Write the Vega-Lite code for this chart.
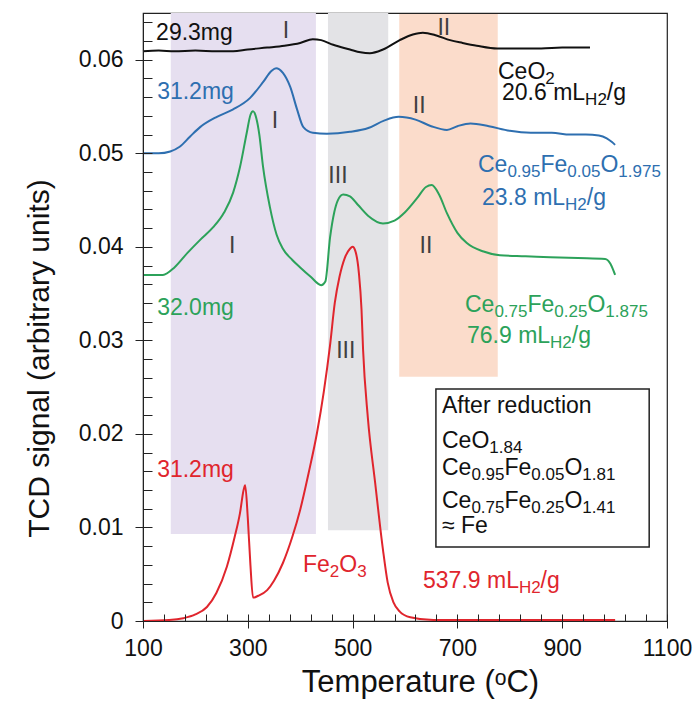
{
  "$schema": "https://vega.github.io/schema/vega-lite/v6.json",
  "width": 524,
  "height": 608,
  "autosize": {"type": "none"},
  "padding": {"left": 143, "top": 13, "right": 32, "bottom": 83},
  "background": "white",
  "config": {
    "view": {"stroke": "#222222", "strokeWidth": 1.2},
    "font": "Liberation Sans",
    "text": {"font": "Liberation Sans"},
    "axis": {"labelFont": "Liberation Sans", "titleFont": "Liberation Sans", "labelColor": "#111111", "titleColor": "#111111", "tickColor": "#222222", "domainColor": "#222222", "grid": false}
  },
  "datasets": {
    "regions": [
      {"c": "p", "x1": 153, "x2": 430, "y1": 0.0093, "y2": 0.065},
      {"c": "gy", "x1": 453, "x2": 568, "y1": 0.0097, "y2": 0.065},
      {"c": "o", "x1": 589, "x2": 777, "y1": 0.0261, "y2": 0.0649}
    ],
    "box": [{"x1": 659, "x2": 1066, "y1": 0.0079, "y2": 0.0248}],
    "curves": [
      {"c": "k", "T": 100, "v": 0.0609}, {"c": "k", "T": 130, "v": 0.0610}, {"c": "k", "T": 160, "v": 0.0609}, {"c": "k", "T": 200, "v": 0.0610},
      {"c": "k", "T": 240, "v": 0.0609}, {"c": "k", "T": 272, "v": 0.0609}, {"c": "k", "T": 300, "v": 0.0611}, {"c": "k", "T": 337, "v": 0.0613},
      {"c": "k", "T": 370, "v": 0.0615}, {"c": "k", "T": 400, "v": 0.0618}, {"c": "k", "T": 424, "v": 0.0622}, {"c": "k", "T": 440, "v": 0.0621},
      {"c": "k", "T": 463, "v": 0.0616}, {"c": "k", "T": 495, "v": 0.0611}, {"c": "k", "T": 515, "v": 0.0608}, {"c": "k", "T": 533, "v": 0.0607},
      {"c": "k", "T": 558, "v": 0.0611}, {"c": "k", "T": 590, "v": 0.0621}, {"c": "k", "T": 615, "v": 0.0627}, {"c": "k", "T": 634, "v": 0.0629},
      {"c": "k", "T": 660, "v": 0.0626}, {"c": "k", "T": 686, "v": 0.0621}, {"c": "k", "T": 710, "v": 0.0618}, {"c": "k", "T": 737, "v": 0.0615},
      {"c": "k", "T": 776, "v": 0.0612}, {"c": "k", "T": 820, "v": 0.0612}, {"c": "k", "T": 860, "v": 0.0612}, {"c": "k", "T": 900, "v": 0.0613},
      {"c": "k", "T": 953, "v": 0.0613},
      {"c": "b", "T": 100, "v": 0.0500}, {"c": "b", "T": 130, "v": 0.0500}, {"c": "b", "T": 152, "v": 0.0502}, {"c": "b", "T": 170, "v": 0.0507},
      {"c": "b", "T": 190, "v": 0.0518}, {"c": "b", "T": 209, "v": 0.0528}, {"c": "b", "T": 241, "v": 0.0539}, {"c": "b", "T": 272, "v": 0.0547},
      {"c": "b", "T": 304, "v": 0.0559}, {"c": "b", "T": 329, "v": 0.0576}, {"c": "b", "T": 345, "v": 0.0588}, {"c": "b", "T": 354, "v": 0.0591},
      {"c": "b", "T": 367, "v": 0.0586}, {"c": "b", "T": 381, "v": 0.0571}, {"c": "b", "T": 394, "v": 0.0547}, {"c": "b", "T": 406, "v": 0.0528},
      {"c": "b", "T": 424, "v": 0.0522}, {"c": "b", "T": 451, "v": 0.0521}, {"c": "b", "T": 495, "v": 0.0523}, {"c": "b", "T": 530, "v": 0.0527},
      {"c": "b", "T": 560, "v": 0.0535}, {"c": "b", "T": 588, "v": 0.0539}, {"c": "b", "T": 620, "v": 0.0536}, {"c": "b", "T": 650, "v": 0.0529},
      {"c": "b", "T": 680, "v": 0.0525}, {"c": "b", "T": 700, "v": 0.0529}, {"c": "b", "T": 725, "v": 0.0532}, {"c": "b", "T": 760, "v": 0.0529},
      {"c": "b", "T": 800, "v": 0.0524}, {"c": "b", "T": 840, "v": 0.0522}, {"c": "b", "T": 880, "v": 0.0522}, {"c": "b", "T": 915, "v": 0.0520},
      {"c": "b", "T": 945, "v": 0.0520}, {"c": "b", "T": 970, "v": 0.0519}, {"c": "b", "T": 985, "v": 0.0516}, {"c": "b", "T": 995, "v": 0.0512},
      {"c": "b", "T": 1001, "v": 0.0509},
      {"c": "g", "T": 100, "v": 0.0370}, {"c": "g", "T": 138, "v": 0.0370}, {"c": "g", "T": 160, "v": 0.0378}, {"c": "g", "T": 184, "v": 0.0393},
      {"c": "g", "T": 210, "v": 0.0408}, {"c": "g", "T": 234, "v": 0.0421}, {"c": "g", "T": 255, "v": 0.0437}, {"c": "g", "T": 272, "v": 0.0458},
      {"c": "g", "T": 285, "v": 0.0485}, {"c": "g", "T": 298, "v": 0.0522}, {"c": "g", "T": 305, "v": 0.0541}, {"c": "g", "T": 310, "v": 0.0545},
      {"c": "g", "T": 316, "v": 0.0538}, {"c": "g", "T": 322, "v": 0.0520}, {"c": "g", "T": 329, "v": 0.0486}, {"c": "g", "T": 342, "v": 0.0443},
      {"c": "g", "T": 355, "v": 0.0413}, {"c": "g", "T": 367, "v": 0.0398}, {"c": "g", "T": 385, "v": 0.0386}, {"c": "g", "T": 400, "v": 0.0378},
      {"c": "g", "T": 420, "v": 0.0368}, {"c": "g", "T": 440, "v": 0.0359}, {"c": "g", "T": 448, "v": 0.0363}, {"c": "g", "T": 457, "v": 0.0410},
      {"c": "g", "T": 465, "v": 0.0437}, {"c": "g", "T": 472, "v": 0.0450}, {"c": "g", "T": 482, "v": 0.0456}, {"c": "g", "T": 495, "v": 0.0454},
      {"c": "g", "T": 510, "v": 0.0445}, {"c": "g", "T": 530, "v": 0.0433}, {"c": "g", "T": 558, "v": 0.0425}, {"c": "g", "T": 580, "v": 0.0428},
      {"c": "g", "T": 600, "v": 0.0437}, {"c": "g", "T": 623, "v": 0.0452}, {"c": "g", "T": 640, "v": 0.0464}, {"c": "g", "T": 651, "v": 0.0466},
      {"c": "g", "T": 665, "v": 0.0456}, {"c": "g", "T": 680, "v": 0.0436}, {"c": "g", "T": 700, "v": 0.0415}, {"c": "g", "T": 718, "v": 0.0404},
      {"c": "g", "T": 750, "v": 0.0395}, {"c": "g", "T": 781, "v": 0.0391}, {"c": "g", "T": 830, "v": 0.0390}, {"c": "g", "T": 877, "v": 0.0389},
      {"c": "g", "T": 930, "v": 0.0388}, {"c": "g", "T": 982, "v": 0.0387}, {"c": "g", "T": 992, "v": 0.0382}, {"c": "g", "T": 1001, "v": 0.0370},
      {"c": "r", "T": 100, "v": 0.0}, {"c": "r", "T": 150, "v": 0.0001}, {"c": "r", "T": 177, "v": 0.0003}, {"c": "r", "T": 200, "v": 0.0007},
      {"c": "r", "T": 222, "v": 0.0015}, {"c": "r", "T": 240, "v": 0.0030}, {"c": "r", "T": 260, "v": 0.0058}, {"c": "r", "T": 275, "v": 0.0090},
      {"c": "r", "T": 285, "v": 0.0115}, {"c": "r", "T": 292, "v": 0.0140}, {"c": "r", "T": 295, "v": 0.0145}, {"c": "r", "T": 300, "v": 0.0110},
      {"c": "r", "T": 305, "v": 0.0060}, {"c": "r", "T": 310, "v": 0.0025}, {"c": "r", "T": 320, "v": 0.0027}, {"c": "r", "T": 337, "v": 0.0033},
      {"c": "r", "T": 350, "v": 0.0043}, {"c": "r", "T": 367, "v": 0.0062}, {"c": "r", "T": 385, "v": 0.0090}, {"c": "r", "T": 400, "v": 0.0119},
      {"c": "r", "T": 416, "v": 0.0158}, {"c": "r", "T": 432, "v": 0.0201}, {"c": "r", "T": 445, "v": 0.0245}, {"c": "r", "T": 457, "v": 0.0295},
      {"c": "r", "T": 466, "v": 0.0340}, {"c": "r", "T": 475, "v": 0.0368}, {"c": "r", "T": 485, "v": 0.0388}, {"c": "r", "T": 495, "v": 0.0398},
      {"c": "r", "T": 500, "v": 0.0400}, {"c": "r", "T": 505, "v": 0.0396}, {"c": "r", "T": 512, "v": 0.0372}, {"c": "r", "T": 517, "v": 0.0333},
      {"c": "r", "T": 520, "v": 0.0290}, {"c": "r", "T": 529, "v": 0.0218}, {"c": "r", "T": 543, "v": 0.0148}, {"c": "r", "T": 558, "v": 0.0076},
      {"c": "r", "T": 567, "v": 0.0041}, {"c": "r", "T": 578, "v": 0.0020}, {"c": "r", "T": 590, "v": 0.0010}, {"c": "r", "T": 610, "v": 0.0004},
      {"c": "r", "T": 654, "v": 0.0001}, {"c": "r", "T": 750, "v": 0.0001}, {"c": "r", "T": 850, "v": 0.0001}, {"c": "r", "T": 1001, "v": 0.0001}
    ],
    "labels": [
      {"t": "29.3mg", "T": 125, "v": 0.0621, "c": "k"},
      {"t": "CeO", "T": 777.5, "v": 0.0579, "c": "k"},
      {"t": "20.6 mL", "T": 785.1, "v": 0.0557, "c": "k"},
      {"t": "/g", "T": 985.1, "v": 0.0557, "c": "k"},
      {"t": "31.2mg", "T": 127, "v": 0.0558, "c": "b"},
      {"t": "Ce", "T": 739.3, "v": 0.0480, "c": "b"},
      {"t": "Fe", "T": 858.6, "v": 0.0480, "c": "b"},
      {"t": "O", "T": 972.9, "v": 0.0480, "c": "b"},
      {"t": "23.8 mL", "T": 746.9, "v": 0.0445, "c": "b"},
      {"t": "/g", "T": 946.9, "v": 0.0445, "c": "b"},
      {"t": "32.0mg", "T": 127, "v": 0.0327, "c": "g"},
      {"t": "Ce", "T": 714.5, "v": 0.0330, "c": "g"},
      {"t": "Fe", "T": 833.8, "v": 0.0330, "c": "g"},
      {"t": "O", "T": 948.1, "v": 0.0330, "c": "g"},
      {"t": "76.9 mL", "T": 718.3, "v": 0.0297, "c": "g"},
      {"t": "/g", "T": 918.3, "v": 0.0297, "c": "g"},
      {"t": "31.2mg", "T": 127, "v": 0.0154, "c": "r"},
      {"t": "Fe", "T": 405.3, "v": 0.0052, "c": "r"},
      {"t": "O", "T": 474.6, "v": 0.0052, "c": "r"},
      {"t": "537.9 mL", "T": 634.4, "v": 0.0035, "c": "r"},
      {"t": "/g", "T": 858.8, "v": 0.0035, "c": "r"},
      {"t": "After reduction", "T": 670.6, "v": 0.0222, "c": "k"},
      {"t": "CeO", "T": 670.6, "v": 0.0185, "c": "k"},
      {"t": "Ce", "T": 670.6, "v": 0.0156, "c": "k"},
      {"t": "Fe", "T": 789.9, "v": 0.0156, "c": "k"},
      {"t": "O", "T": 904.2, "v": 0.0156, "c": "k"},
      {"t": "Ce", "T": 670.6, "v": 0.0121, "c": "k"},
      {"t": "Fe", "T": 789.9, "v": 0.0121, "c": "k"},
      {"t": "O", "T": 904.2, "v": 0.0121, "c": "k"},
      {"t": "≈ Fe", "T": 670.6, "v": 0.0094, "c": "k"}
    ],
    "subs": [
      {"t": "2", "T": 867.8, "v": 0.0579, "c": "k"},
      {"t": "H2", "T": 943.7, "v": 0.0557, "c": "k"},
      {"t": "0.95", "T": 795.4, "v": 0.0480, "c": "b"},
      {"t": "0.05", "T": 909.7, "v": 0.0480, "c": "b"},
      {"t": "1.975", "T": 1007.1, "v": 0.0480, "c": "b"},
      {"t": "H2", "T": 905.5, "v": 0.0445, "c": "b"},
      {"t": "0.75", "T": 770.6, "v": 0.0330, "c": "g"},
      {"t": "0.25", "T": 884.9, "v": 0.0330, "c": "g"},
      {"t": "1.875", "T": 982.3, "v": 0.0330, "c": "g"},
      {"t": "H2", "T": 876.9, "v": 0.0297, "c": "g"},
      {"t": "2", "T": 456.5, "v": 0.0052, "c": "r"},
      {"t": "3", "T": 508.8, "v": 0.0052, "c": "r"},
      {"t": "H2", "T": 817.4, "v": 0.0035, "c": "r"},
      {"t": "1.84", "T": 760.9, "v": 0.0185, "c": "k"},
      {"t": "0.95", "T": 726.7, "v": 0.0156, "c": "k"},
      {"t": "0.05", "T": 841.0, "v": 0.0156, "c": "k"},
      {"t": "1.81", "T": 938.4, "v": 0.0156, "c": "k"},
      {"t": "0.75", "T": 726.7, "v": 0.0121, "c": "k"},
      {"t": "0.25", "T": 841.0, "v": 0.0121, "c": "k"},
      {"t": "1.41", "T": 938.4, "v": 0.0121, "c": "k"}
    ],
    "numerals": [
      {"t": "I", "T": 373, "v": 0.0623, "c": "n"},
      {"t": "II", "T": 674, "v": 0.0627, "c": "n"},
      {"t": "I", "T": 352, "v": 0.0527, "c": "n"},
      {"t": "II", "T": 627, "v": 0.0543, "c": "n"},
      {"t": "III", "T": 472, "v": 0.0468, "c": "n"},
      {"t": "I", "T": 270, "v": 0.0393, "c": "n"},
      {"t": "II", "T": 640, "v": 0.0393, "c": "n"},
      {"t": "III", "T": 487, "v": 0.0281, "c": "n"}
    ]
  },
  "resolve": {"axis": {"x": "independent", "y": "independent"}},
  "layer": [
    {
      "data": {"name": "regions"},
      "mark": {"type": "rect"},
      "encoding": {
        "x": {"field": "x1", "type": "quantitative", "scale": {"domain": [100, 1100], "nice": false, "zero": false},
          "axis": {"orient": "bottom", "values": [100, 300, 500, 700, 900, 1100], "format": "d", "tickSize": 7, "labelFontSize": 23, "labelPadding": 9, "labelFlush": false, "zindex": 1,
            "title": "Temperature (ᵒC)", "titleFontSize": 31, "titleFontWeight": "normal", "titlePadding": 7, "titleX": 277}},
        "x2": {"field": "x2"},
        "y": {"field": "y1", "type": "quantitative", "scale": {"domain": [0, 0.065], "nice": false, "zero": false},
          "axis": {"orient": "left", "values": [0, 0.01, 0.02, 0.03, 0.04, 0.05, 0.06], "format": "~g", "tickSize": 8, "labelFontSize": 23, "labelPadding": 12, "labelFlush": false, "zindex": 1,
            "title": "TCD signal (arbitrary units)", "titleFontSize": 30, "titleFontWeight": "normal", "titlePadding": 24, "titleY": 345}},
        "y2": {"field": "y2"},
        "color": {"field": "c", "type": "nominal", "legend": null,
          "scale": {"domain": ["k", "b", "g", "r", "n", "p", "gy", "o"], "range": ["#111111", "#2e6fb0", "#2ca25a", "#e0252d", "#404040", "#e6dff0", "#e3e3e6", "#fbdccb"]}}
      }
    },
    {
      "data": {"name": "box"},
      "mark": {"type": "rect", "fill": "white", "stroke": "#222222", "strokeWidth": 1.5},
      "encoding": {
        "x": {"field": "x1", "type": "quantitative",
          "axis": {"orient": "bottom", "values": [100, 140, 180, 220, 260, 300, 340, 380, 420, 460, 500, 540, 580, 620, 660, 700, 740, 780, 820, 860, 900, 940, 980, 1020, 1060, 1100],
            "offset": -7, "tickSize": 7, "labels": false, "domain": false, "title": null, "zindex": 1}},
        "x2": {"field": "x2"},
        "y": {"field": "y1", "type": "quantitative",
          "axis": {"orient": "left", "values": [0, 0.002, 0.004, 0.006, 0.008, 0.01, 0.012, 0.014, 0.016, 0.018, 0.02, 0.022, 0.024, 0.026, 0.028, 0.03, 0.032, 0.034, 0.036, 0.038, 0.04, 0.042, 0.044, 0.046, 0.048, 0.05, 0.052, 0.054, 0.056, 0.058, 0.06, 0.062, 0.064],
            "offset": -9, "tickSize": 9, "labels": false, "domain": false, "title": null, "zindex": 1}},
        "y2": {"field": "y2"}
      }
    },
    {
      "data": {"name": "curves"},
      "mark": {"type": "line", "strokeWidth": 2, "interpolate": "monotone"},
      "encoding": {
        "x": {"field": "T", "type": "quantitative", "axis": null},
        "y": {"field": "v", "type": "quantitative", "axis": null},
        "color": {"field": "c", "type": "nominal", "legend": null}
      }
    },
    {
      "data": {"name": "labels"},
      "mark": {"type": "text", "align": "left", "baseline": "alphabetic", "fontSize": 23, "font": "Liberation Sans"},
      "encoding": {
        "x": {"field": "T", "type": "quantitative", "axis": null},
        "y": {"field": "v", "type": "quantitative", "axis": null},
        "text": {"field": "t"},
        "color": {"field": "c", "type": "nominal", "legend": null}
      }
    },
    {
      "data": {"name": "subs"},
      "mark": {"type": "text", "align": "left", "baseline": "alphabetic", "fontSize": 17, "dy": 5, "font": "Liberation Sans"},
      "encoding": {
        "x": {"field": "T", "type": "quantitative", "axis": null},
        "y": {"field": "v", "type": "quantitative", "axis": null},
        "text": {"field": "t"},
        "color": {"field": "c", "type": "nominal", "legend": null}
      }
    },
    {
      "data": {"name": "numerals"},
      "mark": {"type": "text", "align": "center", "baseline": "alphabetic", "fontSize": 23, "font": "Liberation Sans"},
      "encoding": {
        "x": {"field": "T", "type": "quantitative", "axis": null},
        "y": {"field": "v", "type": "quantitative", "axis": null},
        "text": {"field": "t"},
        "color": {"field": "c", "type": "nominal", "legend": null}
      }
    }
  ]
}
